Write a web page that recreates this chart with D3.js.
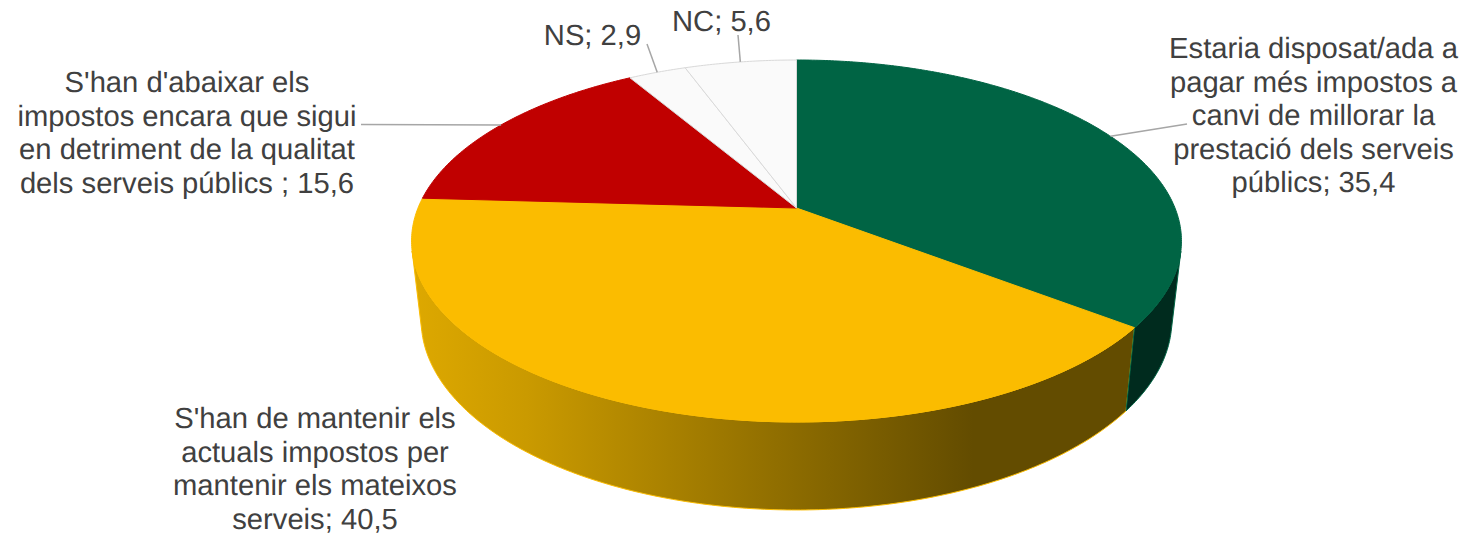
<!DOCTYPE html>
<html><head><meta charset="utf-8">
<script src="https://cdn.jsdelivr.net/npm/d3@7/dist/d3.min.js"></script>
<style>html,body{margin:0;padding:0;background:#fff}svg{display:block}text{font-family:"Liberation Sans",Arial,sans-serif;fill:#404040;text-rendering:geometricPrecision}</style>
</head><body><svg id="c" width="1466" height="536"></svg>
<script>
const categories=["Estaria disposat/ada a pagar més impostos a canvi de millorar la prestació dels serveis públics","S'han de mantenir els actuals impostos per mantenir els mateixos serveis","S'han d'abaixar els impostos encara que sigui en detriment de la qualitat dels serveis públics","NS","NC"];
const values=[35.4,40.5,15.6,2.9,5.6];
const valueLabels=["35,4","40,5","15,6","2,9","5,6"];
const faceColors=["#006444","#FBBC00","#C00000","#FAFAFA","#FAFAFA"];
const strokeColors=["#006444","#FBBC00","#C00000","#D9D9D9","#D9D9D9"];
const labelLines=[
 ["Estaria disposat/ada a","pagar més impostos a","canvi de millorar la","prestació dels serveis","públics; 35,4"],
 ["S'han de mantenir els","actuals impostos per","mantenir els mateixos","serveis; 40,5"],
 ["S'han d'abaixar els","impostos encara que sigui","en detriment de la qualitat","dels serveis públics ; 15,6"],
 ["NS; 2,9"],["NC; 5,6"]];
const labelX=[1313.5,315,187,592.5,721.5];
const labelY=[58,428,92,45,31];
const leaderEnd=[[1187,124],null,[361,124.5],[647,44],[738,35]];
const W=1466,H=536,LH=33.5,FS=29.2;

const svg=d3.select("#c");
const pie=d3.pie().value(d=>d).sort(null)(values);
const K=-0.1823;
const cx=796.5, A=378.5;
function proj(t,level){ // level 0 top rim, 1 bottom rim
  const u=Math.sin(t),v=-Math.cos(t),d=1+K*v;
  const sx=level?0.975:1,a=level?131.7:137.06,b=level?285.3:208;
  return [cx+A*sx*u/d,(a*v+b)/d];
}
const centre=[cx,208];
function arcPts(t0,t1,level){
  const n=Math.max(2,Math.ceil(Math.abs(t1-t0)/0.01));
  return d3.range(n+1).map(i=>proj(t0+(t1-t0)*i/n,level));
}
// the two tangent edges of the solid's outline: where the outline hops between the rims
const rimAll=[];
[0,1].forEach(level=>d3.range(0,2*Math.PI,0.005).forEach(t=>{const p=proj(t,level);p.t=t;p.level=level;rimAll.push(p);}));
const hull=d3.polygonHull(rimAll);
const tangents=[];
hull.forEach((p,i)=>{const q=hull[(i+1)%hull.length];if(p.level!==q.level)tangents.push(p.level===0?[p.t,q.t]:[q.t,p.t]);});
const right=tangents.find(a=>a[0]<Math.PI), left=tangents.find(a=>a[0]>=Math.PI);

const line=d3.line();
const defs=svg.append("defs");
const grad=defs.append("linearGradient").attr("id","wall").attr("gradientUnits","userSpaceOnUse")
 .attr("x1",415).attr("x2",973).attr("y1",0).attr("y2",0);
grad.append("stop").attr("offset",0).attr("stop-color","#DDA800");
grad.append("stop").attr("offset",0.2).attr("stop-color","#CA9A00");
grad.append("stop").attr("offset",1).attr("stop-color","#634C00");

// walls
const g=pie[0], y=pie[1];
const wallY=[...arcPts(y.startAngle,left[0],0),...arcPts(left[1],y.startAngle,1)];
svg.append("path").attr("d",line(wallY)+"Z").attr("fill","url(#wall)").attr("stroke","#FBBC00").attr("stroke-width",1);
const wallG=[...arcPts(right[0],g.endAngle,0),...arcPts(g.endAngle,right[1],1)];
svg.append("path").attr("d",line(wallG)+"Z").attr("fill","#002B1E").attr("stroke","#006444").attr("stroke-width",1);

// faces
svg.selectAll("path.face").data(pie).join("path").attr("class","face")
 .attr("d",d=>line([centre,...arcPts(d.startAngle,d.endAngle,0)])+"Z")
 .attr("fill",(d,i)=>faceColors[i]).attr("stroke",(d,i)=>strokeColors[i]).attr("stroke-width",1);

// leaders
pie.forEach((d,i)=>{
  if(!leaderEnd[i])return;
  const p=proj((d.startAngle+d.endAngle)/2,0);
  svg.append("path").attr("d",line([p,leaderEnd[i]])).attr("fill","none").attr("stroke","#A6A6A6").attr("stroke-width",1.5);
});

// labels
labelLines.forEach((ls,i)=>{
  const t=svg.append("text").attr("text-anchor","middle").attr("font-size",FS);
  ls.forEach((s,j)=>t.append("tspan").attr("x",labelX[i]).attr("y",labelY[i]+j*LH).text(s));
});
</script></body></html>
